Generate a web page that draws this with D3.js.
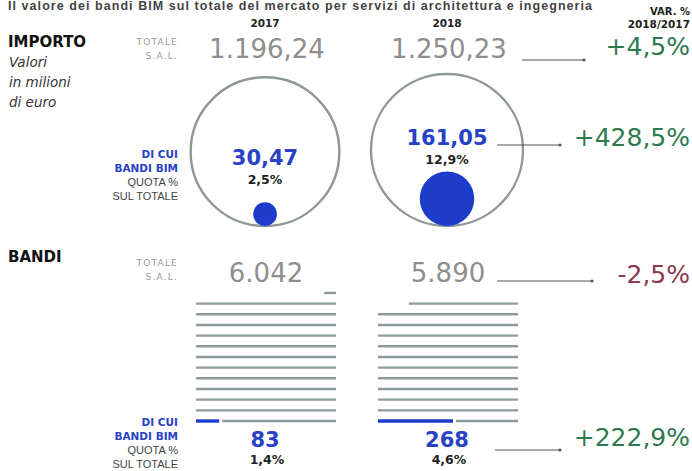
<!DOCTYPE html>
<html>
<head>
<meta charset="utf-8">
<script src="https://cdn.jsdelivr.net/npm/d3@7/dist/d3.min.js"></script>
<style>
  html, body { margin: 0; padding: 0; background: #fff; }
  svg { display: block; }
</style>
</head>
<body>
<svg id="chart" width="692" height="471"></svg>
<script>
// --- data ---
const years = ["2017", "2018"];
const importoTotale = [1196.24, 1250.23];   // milioni di euro
const importoBim = [30.47, 161.05];
const quotaImporto = [2.5, 12.9];           // % sul totale
const bandiTotale = [6042, 5890];
const bandiBim = [83, 268];
const quotaBandi = [1.4, 4.6];
const varImporto = [4.5, 428.5];            // var. % 2018/2017: totale, BIM
const varBandi = [-2.5, 222.9];
const bandiPerRiga = 500;                   // ogni riga = 500 bandi

// --- formatting (Italian) ---
const it = d3.formatLocale({ decimal: ",", thousands: ".", grouping: [3], currency: ["", " €"], minus: "-" });
const fmt2 = it.format(",.2f");
const fmtInt = it.format(",d");
const fmtPct = it.format(".1f");
const fmtVar = v => (v > 0 ? "+" : "") + fmtPct(v) + "%";

// --- palette / fonts ---
const BLUE = "#1d3cc9", BLUE_TXT = "#2742c4", GREY_NUM = "#8e8e8e", RING = "#8e9798";
const GREEN = "#2d7a4f", RED = "#8a3a4c", LINE = "#8e9b9d";
const SANS = "'DejaVu Sans', sans-serif";

const svg = d3.select("#chart");

// column positions
const x = d3.scalePoint().domain(years).range([265, 447]);

// --- heading line ---
svg.append("text")
  .attr("x", 8).attr("y", 10)
  .attr("textLength", 584).attr("lengthAdjust", "spacing")
  .style("font", "bold 12.5px 'Liberation Sans', sans-serif").style("fill", "#444")
  .text("Il valore dei bandi BIM sul totale del mercato per servizi di architettura e ingegneria");

// --- column headers ---
svg.selectAll(".year").data(years).join("text")
  .attr("x", d => x(d)).attr("y", 27).attr("text-anchor", "middle")
  .style("font", `bold 10.5px ${SANS}`).style("fill", "#222")
  .text(d => d);
svg.append("text").attr("x", 690).attr("y", 15).attr("text-anchor", "end")
  .style("font", `bold 10px ${SANS}`).style("fill", "#222").text("VAR. %");
svg.append("text").attr("x", 690).attr("y", 28).attr("text-anchor", "end")
  .style("font", `bold 10.5px ${SANS}`).style("fill", "#222")
  .text(`${years[1]}/${years[0]}`);

// --- left labels ---
svg.append("text").attr("x", 8).attr("y", 47)
  .style("font", `bold 15px ${SANS}`).style("fill", "#111").text("IMPORTO");
["Valori", "in milioni", "di euro"].forEach((t, i) => {
  svg.append("text").attr("x", 9).attr("y", 67 + i * 20)
    .style("font", `oblique 13.5px ${SANS}`).style("fill", "#333").text(t);
});
svg.append("text").attr("x", 8).attr("y", 262)
  .style("font", `bold 15px ${SANS}`).style("fill", "#111").text("BANDI");

function totaleLabel(y) {
  ["TOTALE", "S.A.L."].forEach((t, i) => {
    svg.append("text").attr("x", 178).attr("y", y + i * 14).attr("text-anchor", "end")
      .style("font", `9px ${SANS}`).style("letter-spacing", "1.2px").style("fill", "#9a9a9a").text(t);
  });
}
totaleLabel(45);
totaleLabel(266);

function bimLabel(y) {
  [["DI CUI", true], ["BANDI BIM", true], ["QUOTA %", false], ["SUL TOTALE", false]].forEach(([t, b], i) => {
    svg.append("text").attr("x", 178).attr("y", y + i * 14).attr("text-anchor", "end")
      .style("font", b ? `bold 10.5px ${SANS}` : `11px 'Liberation Sans', sans-serif`)
      .style("fill", b ? BLUE_TXT : "#444").text(t);
  });
}
bimLabel(158);
bimLabel(426);

// --- arrow connectors ---
function arrow(x1, x2, y) {
  svg.append("line").attr("x1", x1).attr("x2", x2).attr("y1", y).attr("y2", y)
    .attr("stroke", "#555").attr("stroke-width", 1);
  svg.append("circle").attr("cx", x2).attr("cy", y).attr("r", 1.6).attr("fill", "#555");
}
function varLabel(v, y) {
  svg.append("text").attr("x", 690).attr("y", y).attr("text-anchor", "end")
    .style("font", `25px ${SANS}`).style("fill", v >= 0 ? GREEN : RED).text(fmtVar(v));
}

// ================= IMPORTO =================
const base = 226;
const r = d3.scaleSqrt().domain([0, d3.max(importoTotale)]).range([0, 76]);

svg.selectAll(".totImp").data(years).join("text")
  .attr("x", (d) => x(d) + 2).attr("y", 58).attr("text-anchor", "middle")
  .style("font", `400 26px ${SANS}`).style("fill", GREY_NUM)
  .text((d, i) => fmt2(importoTotale[i]));

svg.selectAll(".ring").data(years).join("circle")
  .attr("cx", d => x(d))
  .attr("cy", (d, i) => base - r(importoTotale[i]))
  .attr("r", (d, i) => r(importoTotale[i]))
  .attr("fill", "none").attr("stroke", RING).attr("stroke-width", 2.4);

svg.selectAll(".dot").data(years).join("circle")
  .attr("cx", d => x(d))
  .attr("cy", (d, i) => base - r(importoBim[i]))
  .attr("r", (d, i) => r(importoBim[i]))
  .attr("fill", BLUE);

years.forEach((d, i) => {
  const dotTop = base - 2 * r(importoBim[i]);
  const pctY = Math.min(184, dotTop - 7);
  svg.append("text").attr("x", x(d)).attr("y", pctY - 19).attr("text-anchor", "middle")
    .style("font", `bold 21px ${SANS}`).style("fill", BLUE_TXT).text(fmt2(importoBim[i]));
  svg.append("text").attr("x", x(d)).attr("y", pctY).attr("text-anchor", "middle")
    .style("font", `bold 12.5px ${SANS}`).style("fill", "#222").text(fmtPct(quotaImporto[i]) + "%");
});

arrow(522, 584, 60);
varLabel(varImporto[0], 55);
arrow(497, 560, 145);
varLabel(varImporto[1], 146);

// ================= BANDI =================
svg.selectAll(".totBandi").data(years).join("text")
  .attr("x", d => x(d) + 1).attr("y", 282).attr("text-anchor", "middle")
  .style("font", `400 26px ${SANS}`).style("fill", GREY_NUM)
  .text((d, i) => fmtInt(bandiTotale[i]));

const rowW = d3.scaleLinear().domain([0, bandiPerRiga]).range([0, 140]);
const rowY = d3.scaleLinear().domain([0, 1]).range([421, 421 - 10.67]);
const left = d => x(d) - 69;

years.forEach((d, i) => {
  const total = bandiTotale[i], bim = bandiBim[i];
  const nRows = Math.ceil(total / bandiPerRiga);
  const g = svg.append("g");
  for (let k = 0; k < nRows; k++) {
    const inRow = Math.min(bandiPerRiga, total - k * bandiPerRiga);
    const y = rowY(k);
    if (k === 0) {
      // first row: BIM share in blue, the rest in grey
      g.append("line").attr("x1", left(d)).attr("x2", left(d) + rowW(bim))
        .attr("y1", y).attr("y2", y).attr("stroke", BLUE).attr("stroke-width", 3.4);
      g.append("line").attr("x1", left(d) + rowW(bim) + 3).attr("x2", left(d) + rowW(inRow))
        .attr("y1", y).attr("y2", y).attr("stroke", LINE).attr("stroke-width", 2.4);
    } else {
      // partial last row aligned to the right edge
      g.append("line").attr("x1", left(d) + rowW(bandiPerRiga - inRow)).attr("x2", left(d) + rowW(bandiPerRiga))
        .attr("y1", y).attr("y2", y).attr("stroke", LINE).attr("stroke-width", 2.4);
    }
  }
  svg.append("text").attr("x", x(d)).attr("y", 447).attr("text-anchor", "middle")
    .style("font", `bold 21px ${SANS}`).style("fill", BLUE_TXT).text(fmtInt(bim));
  svg.append("text").attr("x", x(d) + 2).attr("y", 464).attr("text-anchor", "middle")
    .style("font", `bold 12.5px ${SANS}`).style("fill", "#222").text(fmtPct(quotaBandi[i]) + "%");
});

arrow(497, 592, 281);
varLabel(varBandi[0], 283);
arrow(495, 560, 450);
varLabel(varBandi[1], 446);
</script>
</body>
</html>
